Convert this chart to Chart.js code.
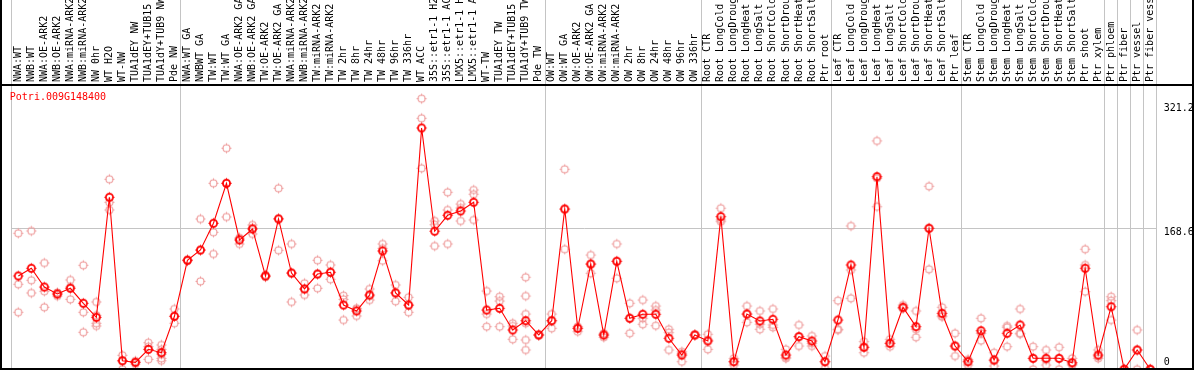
<!DOCTYPE html>
<html>
<head>
<meta charset="utf-8">
<script src="https://cdn.jsdelivr.net/npm/chart.js@4/dist/chart.umd.min.js"></script>
<style>
html,body{margin:0;padding:0;overflow:hidden;background:#fff;}
#wrap{position:relative;width:1194px;height:380px;}
</style>
</head>
<body>
<div id="wrap"><canvas id="c"></canvas></div>
<script>
const geneTitle = 'Potri.009G148400';

const categories = [
  'NWA:WT','NWB:WT','NWA:OE-ARK2','NWB:OE-ARK2','NWA:miRNA-ARK2','NWB:miRNA-ARK2','NW 0hr','WT H2O','WT-NW',
  'TUA1dEY NW','TUA1dEY+TUB15 NW','TUA1dY+TUB9 NW','Pde NW',
  'NWA:WT GA','NWBWT GA','TW:WT','TW:WT GA','NWA:OE-ARK2 GA','NWB:OE-ARK2 GA','TW:OE-ARK2','TW:OE-ARK2 GA',
  'NWA:miRNA-ARK2 GA','NWB:miRNA-ARK2 GA','TW:miRNA-ARK2','TW:miRNA-ARK2 GA',
  'TW 2hr','TW 8hr','TW 24hr','TW 48hr','TW 96hr','TW 336hr','WT ACC',
  '35S::etr1-1 H2O','35S::etr1-1 ACC','LMX5::etr1-1 H2O','LMX5::etr1-1 ACC',
  'WT-TW','TUA1dEY TW','TUA1dEY+TUB15 TW','TUA1dY+TUB9 TW','Pde TW',
  'OW:WT','OW:WT GA','OW:OE-ARK2','OW:OE-ARK2 GA','OW:miRNA-ARK2','OW:miRNA-ARK2 GA',
  'OW 2hr','OW 8hr','OW 24hr','OW 48hr','OW 96hr','OW 336hr',
  'Root CTR','Root LongCold','Root LongDrought','Root LongHeat','Root LongSalt',
  'Root ShortCold','Root ShortDrought','Root ShortHeat','Root ShortSalt','Ptr root',
  'Leaf CTR','Leaf LongCold','Leaf LongDrought','Leaf LongHeat','Leaf LongSalt',
  'Leaf ShortCold','Leaf ShortDrought','Leaf ShortHeat','Leaf ShortSalt','Ptr leaf',
  'Stem CTR','Stem LongCold','Stem LongDrought','Stem LongHeat','Stem LongSalt',
  'Stem ShortCold','Stem ShortDrought','Stem ShortHeat','Stem ShortSalt',
  'Ptr shoot','Ptr xylem','Ptr phloem','Ptr fiber','Ptr vessel','Ptr fiber vessel'
];

const meanValues = [
  112.3,121.4,99.3,91.1,97.8,80.1,63.6,205.0,12.5,10.6,25.9,21.9,64.8,
  130.8,142.9,174.4,221.5,154.7,167.7,112.3,179.5,115.8,97.0,114.6,116.7,
  78.1,71.1,89.9,141.8,92.3,78.1,286.7,165.0,183.8,188.9,199.1,
  72.2,74.2,48.7,59.6,42.8,
  59.6,191.2,50.7,126.4,42.8,129.6,62.5,67.2,67.2,38.9,19.2,42.8,
  35.7,182.2,11.3,67.5,59.3,61.3,19.2,40.8,35.7,11.3,
  60.4,125.3,28.3,229.3,33.0,75.4,52.6,168.5,68.3,29.8,
  11.3,47.8,13.3,44.8,54.6,15.3,15.3,15.3,10.1,
  121.4,19.2,76.1,2.4,25.1,2.4
];

const replicateValues = [
  [162.6,102.5,69.5],[165.3,107.2,92.3],[127.6,94.3,75.4],[92.9,91.1,88.7],[107.6,99.3,84.8],
  [124.9,69.5,46.0],[81.7,66.0,56.6,53.4],[226.2,199.1,190.1],[18.9,12.1,2.4],[12.1,10.4,8.6],
  [33.7,29.0,14.1],[31.0,25.9,20.0,15.3,12.5],[73.4,64.8,56.6],
  [131.7,130.8,130.0],[179.5,142.9,106.0],[221.5,163.8,138.2],[262.8,221.5,181.8],[156.7,150.0,157.1],
  [172.4,161.8,168.9],[113.5,111.7,111.1],[215.6,142.6,180.2],[150.0,81.7,115.8],[103.7,89.9,97.0],
  [130.8,97.8,114.6],[125.3,108.4,116.2],
  [89.1,84.8,60.4],[74.2,65.2,73.4],[97.0,84.0,88.7],[150.0,130.3,144.9],[101.7,82.5,92.6],[87.2,69.5,77.7],
  [321.2,298.1,239.2],[177.1,172.7,147.6],[210.9,190.1,150.0],[197.1,177.1,192.4],[213.6,208.6,178.3],
  [94.6,67.5,52.6],[87.9,82.8,52.6],[56.6,53.4,37.7],[110.8,88.7,67.5,56.6,36.9,25.1],[43.4,42.8,42.2],
  [67.5,59.6,50.7],[238.0,191.2,143.8],[52.6,50.7,46.7],[137.0,126.4,115.5],[44.8,42.8,40.1],[150.0,129.6,109.6],
  [80.1,62.5,44.8],[84.0,62.5,55.4],[76.9,72.2,53.7],[49.5,45.5,25.1],[23.1,21.2,11.3],[43.4,42.8,42.2],
  [43.6,36.9,25.9],[192.1,178.3,176.3],[15.3,11.3,7.4],[76.9,67.5,57.7],[71.1,55.4,49.5],
  [73.4,54.6,51.8],[25.9,16.5,15.3],[54.6,40.8,29.8],[41.6,33.0,29.8],[18.0,11.3,3.5],
  [83.2,49.5,48.7],[171.2,119.4,86.0],[34.9,28.3,21.9],[271.4,227.4,193.9],[37.7,33.0,29.0],
  [78.1,74.2,74.2],[71.1,49.5,40.1],[218.0,168.5,120.2],[75.4,65.2,64.3],[44.8,29.8,18.0],
  [14.1,12.5,7.4],[62.5,44.8,36.1],[21.9,12.5,6.2],[53.4,51.8,29.0],[73.4,44.8,44.0],
  [29.0,15.3,2.4],[25.1,13.3,7.4],[28.3,15.3,2.4],[15.3,8.6,7.4],
  [143.8,125.3,93.8],[25.1,17.2,15.3],[87.9,83.2,60.4],[2.4,2.4,2.0],[48.7,25.1,2.4],[2.4,2.4,2.0]
];

const yTickValues = [0, 168.6, 321.2];
const yTickLabels = ['0', '168.6', '321.2'];
const groupBoundaries = [0, 13, 41, 53, 63, 73, 84, 85, 86, 87, 88];

// ---- styles ----
const FONT = '"DejaVu Sans Mono", "Liberation Mono", monospace';
const GRID = '#c4c4c4';
const REP_COLOR = '#ee9c9c';
const MEAN_COLOR = '#ff0000';

function makeMarker(color, lw, r) {
  const s = 15, c = 7.5;
  const cv = document.createElement('canvas');
  cv.width = s; cv.height = s;
  const g = cv.getContext('2d');
  g.strokeStyle = color;
  g.lineWidth = lw;
  g.beginPath(); g.arc(c, c, r, 0, Math.PI * 2); g.stroke();
  g.lineWidth = 1;
  g.beginPath();
  g.moveTo(c, c - r - 1.5); g.lineTo(c, c - r + 0.5);
  g.moveTo(c, c + r - 0.5); g.lineTo(c, c + r + 1.5);
  g.moveTo(c - r - 1.5, c); g.lineTo(c - r + 0.5, c);
  g.moveTo(c + r - 0.5, c); g.lineTo(c + r + 1.5, c);
  g.stroke();
  return cv;
}
const repMarker = makeMarker(REP_COLOR, 1.1, 3.5);
const meanMarker = makeMarker(MEAN_COLOR, 1.7, 3.6);

const maxReps = Math.max(...replicateValues.map(r => r.length));
const repDatasets = [];
for (let k = 0; k < maxReps; k++) {
  repDatasets.push({
    type: 'line',
    data: replicateValues.map(r => (r[k] === undefined ? null : r[k])),
    showLine: false,
    pointStyle: repMarker,
    pointRadius: 4,
    pointHoverRadius: 4,
    borderColor: REP_COLOR,
    backgroundColor: 'rgba(0,0,0,0)'
  });
}

const decorPlugin = {
  id: 'decor',
  afterDraw(chart) {
    const ctx = chart.ctx;
    const area = chart.chartArea;
    const ys = chart.scales.y;
    const W = chart.width, H = chart.height;
    ctx.save();
    ctx.fillStyle = '#000';
    ctx.fillRect(0, area.top - 1, W, 2);
    ctx.fillRect(0, 0, 2, H);
    ctx.fillRect(W - 2, 0, 2, H);
    ctx.fillRect(0, 368, W, 2);
    ctx.font = '10px ' + FONT;
    ctx.fillStyle = '#ff0000';
    ctx.textBaseline = 'middle';
    ctx.textAlign = 'left';
    ctx.fillText(geneTitle, area.left - 2, area.top + 12);
    ctx.fillStyle = '#000';
    const offs = [-9, 4, 10];
    yTickValues.forEach((v, i) => {
      ctx.fillText(yTickLabels[i], area.right + 7, ys.getPixelForValue(v) + offs[i]);
    });
    ctx.restore();
  }
};

Chart.defaults.font.family = FONT;
Chart.defaults.font.size = 10;

new Chart(document.getElementById('c'), {
  type: 'line',
  data: {
    labels: categories,
    datasets: [
      {
        data: meanValues,
        borderColor: MEAN_COLOR,
        borderWidth: 1.1,
        tension: 0,
        pointStyle: meanMarker,
        pointRadius: 4,
        pointHoverRadius: 4,
        backgroundColor: 'rgba(0,0,0,0)'
      },
      ...repDatasets
    ]
  },
  options: {
    responsive: true,
    maintainAspectRatio: false,
    devicePixelRatio: 1,
    animation: false,
    events: [],
    layout: { padding: { left: 11.8, right: 0, top: 0, bottom: 8.7 } },
    plugins: { legend: { display: false }, tooltip: { enabled: false }, title: { display: false } },
    scales: {
      x: {
        type: 'category',
        position: 'top',
        offset: true,
        afterFit(s) { s.height = 85; },
        border: { display: false },
        grid: {
          offset: true,
          drawTicks: true,
          tickLength: 85,
          lineWidth: 1,
          color: c => (c.index === undefined || groupBoundaries.includes(c.index)) ? GRID : 'rgba(0,0,0,0)'
        },
        ticks: {
          autoSkip: false,
          minRotation: 90,
          maxRotation: 90,
          padding: -82,
          labelOffset: 12,
          color: '#000',
          font: { family: FONT, size: 10 }
        }
      },
      y: {
        position: 'right',
        min: 0,
        max: 337.3,
        afterFit(s) { s.width = 37.3; },
        afterBuildTicks(s) { s.ticks = yTickValues.map(v => ({ value: v })); },
        border: { display: false },
        grid: {
          drawTicks: false,
          lineWidth: 1,
          color: c => (c.tick && c.tick.value === 168.6) ? GRID : 'rgba(0,0,0,0)'
        },
        ticks: { display: false }
      }
    }
  },
  plugins: [decorPlugin]
});
</script>
</body>
</html>
